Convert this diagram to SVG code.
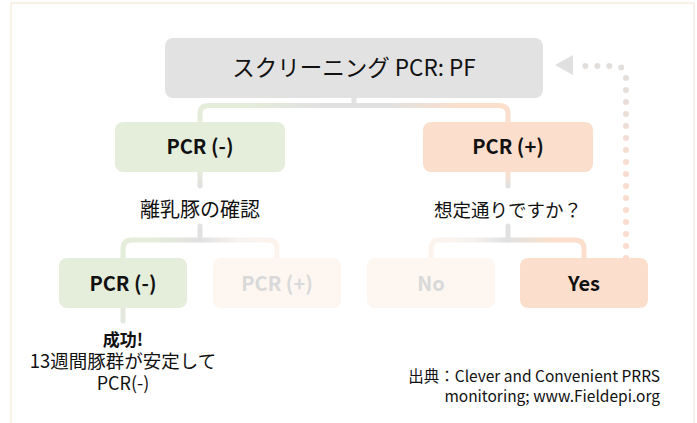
<svg xmlns="http://www.w3.org/2000/svg" width="697" height="423" viewBox="0 0 697 423">
<style>
.t{font-family:"Noto Sans CJK JP","Noto Sans",sans-serif;fill:#111;text-anchor:middle}
.b{font-weight:bold;font-size:20px}
.c{fill:none;stroke-width:5;stroke-linecap:round;stroke-linejoin:round}
</style>
<defs>
<linearGradient id="g1" gradientUnits="userSpaceOnUse" x1="200" y1="0" x2="508" y2="0">
<stop offset="0" stop-color="#e4edda"/><stop offset="0.15" stop-color="#e4edda"/><stop offset="0.4" stop-color="#e1e1e1"/><stop offset="0.6" stop-color="#e1e1e1"/><stop offset="0.85" stop-color="#fbdfcc"/><stop offset="1" stop-color="#fbdfcc"/>
</linearGradient>
<linearGradient id="g2" gradientUnits="userSpaceOnUse" x1="123" y1="0" x2="277" y2="0">
<stop offset="0" stop-color="#e4edda"/><stop offset="0.2" stop-color="#e4edda"/><stop offset="0.5" stop-color="#e1e1e1"/><stop offset="0.75" stop-color="#f8f3ef"/><stop offset="1" stop-color="#fcf3ed"/>
</linearGradient>
<linearGradient id="g3" gradientUnits="userSpaceOnUse" x1="431" y1="0" x2="584" y2="0">
<stop offset="0" stop-color="#fcf3ed"/><stop offset="0.25" stop-color="#f8f3ef"/><stop offset="0.5" stop-color="#e1e1e1"/><stop offset="0.8" stop-color="#fbdfcc"/><stop offset="1" stop-color="#fbdfcc"/>
</linearGradient>
<linearGradient id="gsl" gradientUnits="userSpaceOnUse" x1="0" y1="172" x2="0" y2="186">
<stop offset="0" stop-color="#e4edda"/><stop offset="1" stop-color="#e1e1e1"/>
</linearGradient>
<linearGradient id="gsr" gradientUnits="userSpaceOnUse" x1="0" y1="172" x2="0" y2="186">
<stop offset="0" stop-color="#fbdfcc"/><stop offset="1" stop-color="#e1e1e1"/>
</linearGradient>
<linearGradient id="gd" gradientUnits="userSpaceOnUse" x1="0" y1="258" x2="0" y2="66">
<stop offset="0" stop-color="#fbdccb"/><stop offset="0.5" stop-color="#f6ddd0"/><stop offset="1" stop-color="#e2dedb"/>
</linearGradient>
</defs>
<rect x="11" y="3" width="683" height="440" fill="#fff" stroke="#f2e8da" stroke-width="1.2"/>
<g id="connectors">
<path class="c" stroke="#e1e1e1" d="M354,98 V105.5"/>
<path class="c" stroke="url(#g1)" d="M200,122 V114 Q200,105.5 208.5,105.5 H499.5 Q508,105.5 508,114 V122"/>
<path class="c" stroke="url(#gsl)" d="M200,172 V186"/>
<path class="c" stroke="#e1e1e1" d="M200,226 V240"/>
<path class="c" stroke="url(#g2)" d="M123,257 V249 Q123,240 132,240 H268 Q277,240 277,249 V257"/>
<path class="c" stroke="url(#gsr)" d="M508,172 V186"/>
<path class="c" stroke="#e1e1e1" d="M508,226 V240"/>
<path class="c" stroke="url(#g3)" d="M431,257 V249 Q431,240 440,240 H575 Q584,240 584,249 V257"/>
<path class="c" stroke="#e3e8de" d="M123,308 V321"/>
<path fill="none" stroke="url(#gd)" stroke-width="6" stroke-linecap="round" stroke-dasharray="0 12" d="M626,258 V78 Q626,66 614,66 H580"/>
<polygon points="555,65 573,55 573,75" fill="#e0e0e0"/>
</g>
<g id="n_top">
<rect x="165" y="38" width="378" height="60" rx="8" fill="#e2e2e2"/>
<text class="t" x="354" y="76" font-size="22.5">スクリーニング PCR: PF</text>
</g>
<g id="n_neg1">
<rect x="115" y="122" width="170" height="50" rx="8" fill="#e5eedb"/>
<text class="t b" x="200" y="154">PCR (-)</text>
</g>
<g id="n_pos1">
<rect x="423" y="122" width="170" height="50" rx="8" fill="#fbdfcc"/>
<text class="t b" x="508" y="154">PCR (+)</text>
</g>
<g id="n_q1">
<text class="t" x="200" y="217" font-size="20">離乳豚の確認</text>
</g>
<g id="n_q2">
<text class="t" x="508" y="217" font-size="18.5">想定通りですか？</text>
</g>
<g id="n_neg2">
<rect x="59" y="258" width="128" height="50" rx="8" fill="#e5eedb"/>
<text class="t b" x="123" y="291">PCR (-)</text>
</g>
<g id="n_pos2">
<rect x="213" y="258" width="128" height="50" rx="8" fill="#fdf6f1"/>
<text class="t b" x="277" y="291" style="fill:#d9d9d9">PCR (+)</text>
</g>
<g id="n_no">
<rect x="367" y="258" width="128" height="50" rx="8" fill="#fdf6f1"/>
<text class="t b" x="431" y="291" style="fill:#d9d9d9">No</text>
</g>
<g id="n_yes">
<rect x="520" y="258" width="128" height="50" rx="8" fill="#fbdfcc"/>
<text class="t b" x="584" y="291">Yes</text>
</g>
<g id="n_success">
<text class="t" x="123" y="346" font-size="17" font-weight="bold">成功!</text>
<text class="t" x="123" y="368" font-size="18.5">13週間豚群が安定して</text>
<text class="t" x="123" y="390" font-size="18">PCR(-)</text>
</g>
<g id="source">
<text class="t" x="660" y="382" font-size="15.5" style="text-anchor:end">出典：Clever and Convenient PRRS</text>
<text class="t" x="660" y="402" font-size="15.5" style="text-anchor:end">monitoring; www.Fieldepi.org</text>
</g>
</svg>
